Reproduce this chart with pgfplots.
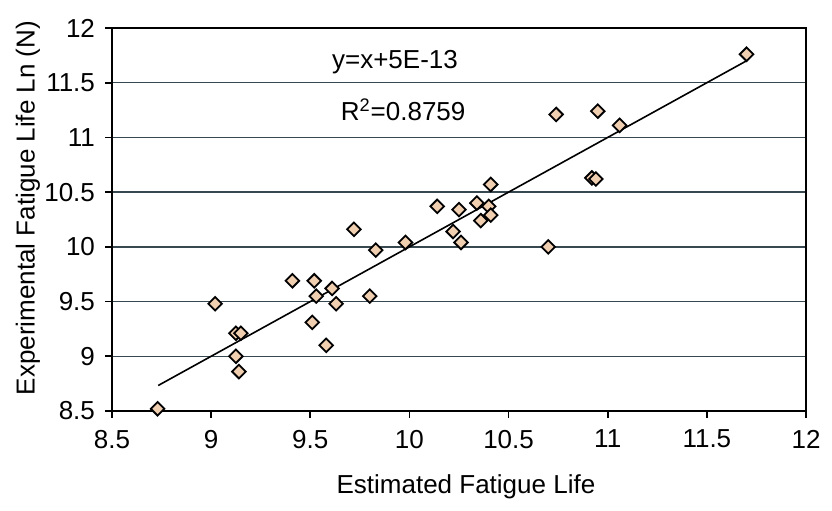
\documentclass[border=0pt]{standalone}
\usepackage{pgfplots}
\pgfplotsset{compat=1.18}
\usepackage{fontspec}
\setmainfont{Liberation Sans}

\definecolor{markfill}{RGB}{240,206,176}
\definecolor{gridc}{RGB}{55,72,80}

\newcommand{\lblfont}{\fontsize{13}{15.6}\selectfont}

\begin{document}
\begin{tikzpicture}
\begin{axis}[
  scale only axis,
  width=347pt, height=191.5pt,
  xmin=8.5, xmax=12, ymin=8.5, ymax=12,
  xtick={8.5,9,9.5,10,10.5,11,11.5,12},
  ytick={8.5,9,9.5,10,10.5,11,11.5,12},
  xtick pos=left, ytick pos=left,
  tick align=outside,
  major tick length=3.5pt,
  tick style={black, line width=0.8pt},
  ymajorgrids,
  grid style={gridc, line width=0.7pt},
  axis line style={black, line width=1pt},
  /pgf/number format/assume math mode=true,
  tick label style={font=\lblfont},
  xticklabel style={yshift=-2.5pt},
  yticklabel style={xshift=-1.5pt},
  xlabel={Estimated Fatigue Life},
  ylabel={Experimental Fatigue Life Ln (N)},
  xlabel style={at={(axis description cs:0.51,-0.198)}, anchor=center, font=\lblfont},
  ylabel style={at={(axis description cs:-0.121,0.53)}, anchor=center, font=\lblfont},
  clip=false,
]
% measured fatigue life against estimate
\addplot[only marks, mark=square*, mark size=2.4pt,
  mark options={rotate=45, draw=black, fill=markfill, line width=0.9pt}]
  coordinates {
  (8.73,8.52) (9.02,9.48) (9.125,9.21) (9.15,9.21) (9.125,9.00)
  (9.14,8.86) (9.41,9.69) (9.52,9.69) (9.53,9.55) (9.51,9.31)
  (9.58,9.10) (9.61,9.62) (9.63,9.48) (9.80,9.55) (9.72,10.16)
  (9.83,9.97) (9.98,10.04) (10.14,10.37) (10.25,10.34) (10.22,10.14)
  (10.26,10.04) (10.34,10.40) (10.40,10.37) (10.36,10.24) (10.41,10.29)
  (10.41,10.57) (10.74,11.21) (10.95,11.24) (11.06,11.11) (10.92,10.63)
  (10.94,10.62) (10.70,10.00) (11.70,11.76)
  };
% linear fit y = x + 5E-13
\addplot[black, line width=0.8pt, no marks]
  coordinates {(8.733,8.733) (11.706,11.706)};
\node[font=\lblfont] at (axis cs:9.927,11.69) {y=x+5E-13};
\node[font=\lblfont] at (axis cs:9.968,11.25) {R\textsuperscript{2}=0.8759};
\coordinate (sw) at (rel axis cs:0,0);
\coordinate (ne) at (rel axis cs:1,1);
\end{axis}
\pgfresetboundingbox
\path[use as bounding box] ([xshift=-56pt,yshift=-50pt]sw) rectangle ([xshift=13pt,yshift=14pt]ne);
\end{tikzpicture}
\end{document}
